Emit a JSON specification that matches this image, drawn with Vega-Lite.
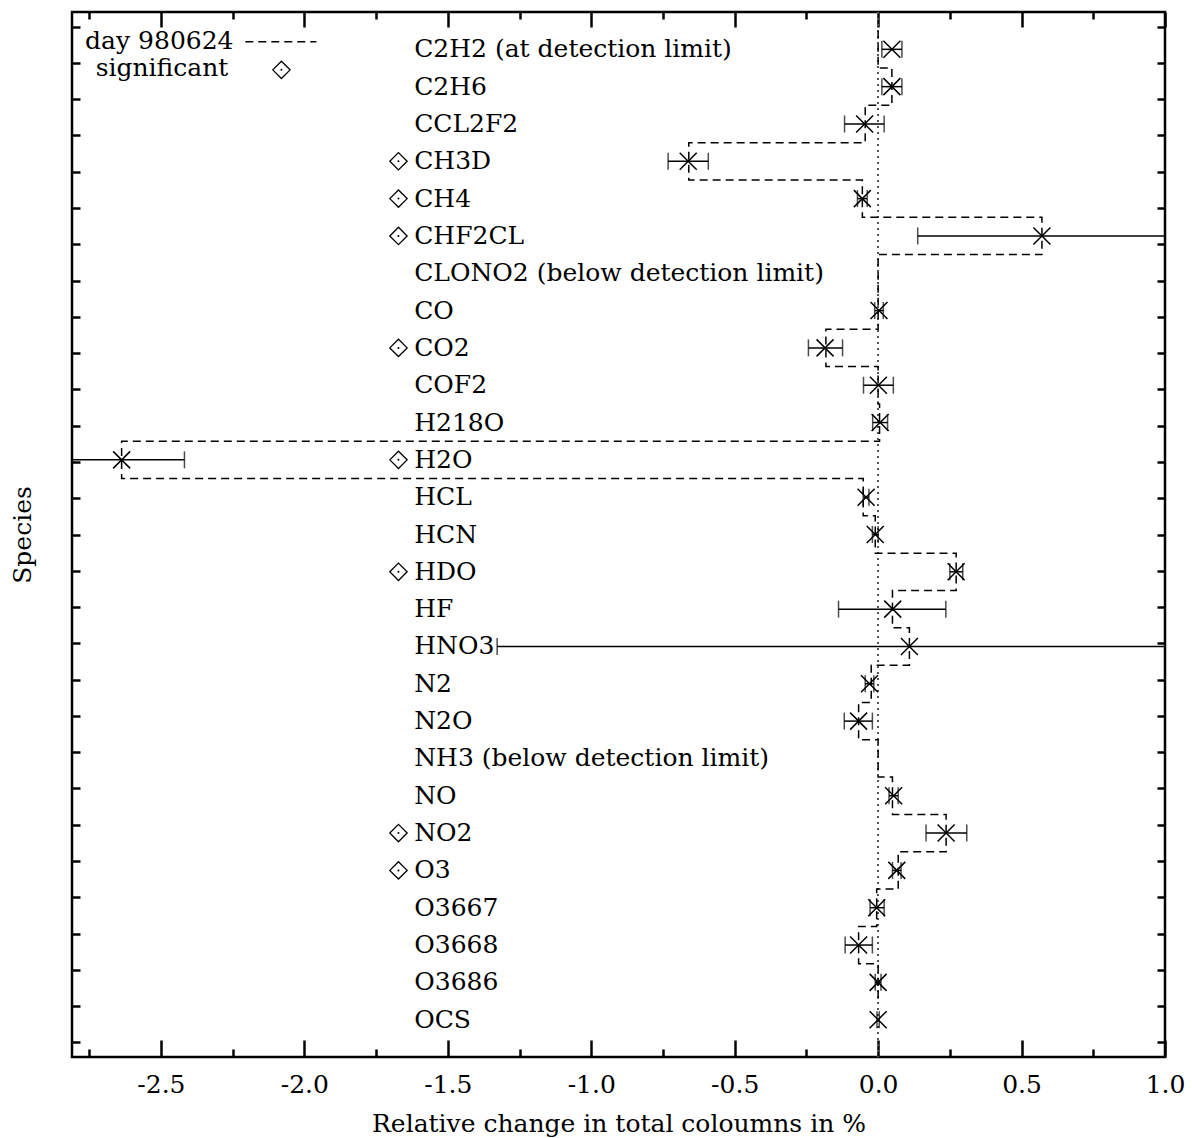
{
  "$schema": "https://vega.github.io/schema/vega-lite/v6.json",
  "width": 1093,
  "height": 1045,
  "autosize": "none",
  "padding": {"left": 72, "top": 12, "right": 27, "bottom": 81},
  "background": "white",
  "config": {
    "view": {"stroke": "black", "strokeWidth": 2.5},
    "text": {"font": "DejaVu Serif", "fontSize": 25, "color": "black"},
    "axis": {"labelFont": "DejaVu Serif", "titleFont": "DejaVu Serif", "titleFontWeight": "normal", "labelColor": "black", "titleColor": "black", "tickColor": "black", "domain": false, "grid": false}
  },
  "data": {"values": [
    {"idx": 1, "species": "C2H2", "label": "C2H2 (at detection limit)", "sig": false, "day": 0, "val": 0.048, "lo": 0.013, "hi": 0.083},
    {"idx": 2, "species": "C2H6", "label": "C2H6", "sig": false, "day": 0.048, "val": 0.048, "lo": 0.013, "hi": 0.083},
    {"idx": 3, "species": "CCL2F2", "label": "CCL2F2", "sig": false, "day": -0.045, "val": -0.047, "lo": -0.117, "hi": 0.021},
    {"idx": 4, "species": "CH3D", "label": "CH3D", "sig": true, "day": -0.66, "val": -0.662, "lo": -0.732, "hi": -0.592},
    {"idx": 5, "species": "CH4", "label": "CH4", "sig": true, "day": -0.055, "val": -0.055, "lo": -0.072, "hi": -0.038},
    {"idx": 6, "species": "CHF2CL", "label": "\u00a0CHF2CL", "sig": true, "day": 0.571, "val": 0.571, "lo": 0.138, "hi": 1.004},
    {"idx": 7, "species": "CLONO2", "label": "CLONO2 (below detection limit)", "sig": false, "day": 0, "val": null, "lo": null, "hi": null},
    {"idx": 8, "species": "CO", "label": "CO", "sig": false, "day": 0, "val": 0.003, "lo": -0.012, "hi": 0.018},
    {"idx": 9, "species": "CO2", "label": "CO2", "sig": true, "day": -0.182, "val": -0.185, "lo": -0.243, "hi": -0.124},
    {"idx": 10, "species": "COF2", "label": "COF2", "sig": false, "day": 0, "val": 0.001, "lo": -0.051, "hi": 0.053},
    {"idx": 11, "species": "H218O", "label": "H218O", "sig": false, "day": 0.005, "val": 0.007, "lo": -0.019, "hi": 0.033},
    {"idx": 12, "species": "H2O", "label": "H2O", "sig": true, "day": -2.637, "val": -2.637, "lo": -2.857, "hi": -2.418},
    {"idx": 13, "species": "HCL", "label": "HCL", "sig": false, "day": -0.052, "val": -0.042, "lo": -0.052, "hi": -0.032},
    {"idx": 14, "species": "HCN", "label": "HCN", "sig": false, "day": -0.01, "val": -0.01, "lo": -0.02, "hi": 0.0},
    {"idx": 15, "species": "HDO", "label": "HDO", "sig": true, "day": 0.272, "val": 0.272, "lo": 0.25, "hi": 0.295},
    {"idx": 16, "species": "HF", "label": "HF", "sig": false, "day": 0.05, "val": 0.051, "lo": -0.138, "hi": 0.236},
    {"idx": 17, "species": "HNO3", "label": "HNO3", "sig": false, "day": 0.109, "val": 0.109, "lo": -1.328, "hi": 1.546},
    {"idx": 18, "species": "N2", "label": "N2", "sig": false, "day": -0.024, "val": -0.03, "lo": -0.045, "hi": -0.015},
    {"idx": 19, "species": "N2O", "label": "N2O", "sig": false, "day": -0.068, "val": -0.068, "lo": -0.118, "hi": -0.02},
    {"idx": 20, "species": "NH3", "label": "NH3 (below detection limit)", "sig": false, "day": 0, "val": null, "lo": null, "hi": null},
    {"idx": 21, "species": "NO", "label": "NO", "sig": false, "day": 0.05, "val": 0.054, "lo": 0.038, "hi": 0.07},
    {"idx": 22, "species": "NO2", "label": "NO2", "sig": true, "day": 0.237, "val": 0.237, "lo": 0.167, "hi": 0.309},
    {"idx": 23, "species": "O3", "label": "O3", "sig": true, "day": 0.07, "val": 0.065, "lo": 0.05, "hi": 0.08},
    {"idx": 24, "species": "O3667", "label": "O3667", "sig": false, "day": -0.005, "val": -0.005, "lo": -0.028, "hi": 0.021},
    {"idx": 25, "species": "O3668", "label": "O3668", "sig": false, "day": -0.068, "val": -0.068, "lo": -0.115, "hi": -0.02},
    {"idx": 26, "species": "O3686", "label": "O3686", "sig": false, "day": 0, "val": 0, "lo": -0.01, "hi": 0.01},
    {"idx": 27, "species": "OCS", "label": "OCS", "sig": false, "day": 0, "val": 0, "lo": -0.004, "hi": 0.004}
  ]},
  "resolve": {"scale": {"y": "independent"}, "axis": {"x": "independent", "y": "independent"}},
  "layer": [
    {
      "resolve": {"axis": {"x": "independent", "y": "independent"}},
      "layer": [
        {
          "mark": {"type": "rule", "strokeDash": [2, 4], "color": "#555", "strokeWidth": 1.3},
          "encoding": {"x": {"datum": 0, "type": "quantitative", "axis": null}}
        },
        {
          "mark": {"type": "line", "interpolate": "step-before", "strokeDash": [8, 5], "color": "black", "strokeWidth": 1.5},
          "encoding": {
            "x": {"field": "day", "type": "quantitative", "axis": {"orient": "top", "values": [-2.75, -2.5, -2.25, -2, -1.75, -1.5, -1.25, -1, -0.75, -0.5, -0.25, 0, 0.25, 0.5, 0.75, 1], "labels": false, "title": null, "tickWidth": 2.5, "tickSize": {"condition": {"test": "abs(datum.value*2-round(datum.value*2))<0.001", "value": -15}, "value": -7}}},
            "y": {"field": "species", "type": "nominal", "sort": null, "bandPosition": 0, "axis": null},
            "order": {"field": "idx", "type": "quantitative"}
          }
        },
        {
          "transform": [{"filter": "datum.val != null"}],
          "mark": {"type": "rule", "color": "black", "strokeWidth": 1.5, "clip": true},
          "encoding": {
            "x": {"field": "lo", "type": "quantitative", "scale": {"domain": [-2.81, 1.0], "nice": false, "zero": false},
              "axis": {"orient": "bottom", "values": [-2.75, -2.5, -2.25, -2, -1.75, -1.5, -1.25, -1, -0.75, -0.5, -0.25, 0, 0.25, 0.5, 0.75, 1],
                "labelExpr": "abs(datum.value*2-round(datum.value*2))<0.001 ? replace(format(datum.value,'.1f'),'\u2212','-') : ''",
                "tickWidth": 2.5, "tickSize": {"condition": {"test": "abs(datum.value*2-round(datum.value*2))<0.001", "value": -17}, "value": -8},
                "labelFontSize": 25, "labelPadding": 32, "labelFlush": false, "labelOverlap": false,
                "title": "Relative change in total coloumns in %", "titleFontSize": 25, "titlePadding": 5}},
            "x2": {"field": "hi"},
            "y": {"field": "species", "type": "nominal", "sort": null, "scale": {"type": "band", "paddingInner": 0, "paddingOuter": 0.5}, "axis": null}
          }
        },
        {
          "transform": [{"filter": "datum.val != null"}],
          "mark": {"type": "tick", "orient": "vertical", "size": 17, "thickness": 1.5, "color": "black", "clip": true},
          "encoding": {
            "x": {"field": "lo", "type": "quantitative", "axis": null},
            "y": {"field": "species", "type": "nominal", "sort": null, "axis": null}
          }
        },
        {
          "transform": [{"filter": "datum.val != null"}],
          "mark": {"type": "tick", "orient": "vertical", "size": 17, "thickness": 1.5, "color": "black", "clip": true},
          "encoding": {
            "x": {"field": "hi", "type": "quantitative", "axis": null},
            "y": {"field": "species", "type": "nominal", "sort": null, "axis": null}
          }
        },
        {
          "transform": [{"filter": "datum.val != null"}],
          "mark": {"type": "point", "shape": "M-1,-1L1,1M-1,1L1,-1", "filled": false, "stroke": "black", "strokeWidth": 1.5, "size": 289, "opacity": 1},
          "encoding": {
            "x": {"field": "val", "type": "quantitative", "axis": null},
            "y": {"field": "species", "type": "nominal", "sort": null, "axis": null}
          }
        },
        {
          "transform": [{"filter": "datum.sig"}],
          "mark": {"type": "point", "shape": "diamond", "filled": false, "stroke": "black", "strokeWidth": 1.3, "size": 300, "opacity": 1},
          "encoding": {
            "x": {"datum": -1.672, "type": "quantitative", "axis": null},
            "y": {"field": "species", "type": "nominal", "sort": null, "axis": null}
          }
        },
        {
          "transform": [{"filter": "datum.sig"}],
          "mark": {"type": "point", "shape": "circle", "filled": true, "color": "black", "size": 4, "opacity": 1},
          "encoding": {
            "x": {"datum": -1.672, "type": "quantitative", "axis": null},
            "y": {"field": "species", "type": "nominal", "sort": null, "axis": null}
          }
        },
        {
          "mark": {"type": "text", "align": "left", "baseline": "middle"},
          "encoding": {
            "x": {"datum": -1.617, "type": "quantitative", "axis": null},
            "y": {"field": "species", "type": "nominal", "sort": null, "axis": null},
            "text": {"field": "label"}
          }
        },
        {
          "data": {"values": [{"t": "day 980624"}]},
          "mark": {"type": "text", "align": "right", "baseline": "middle"},
          "encoding": {
            "x": {"datum": -2.247, "type": "quantitative", "axis": null},
            "y": {"datum": "C2H2", "type": "nominal", "bandPosition": 0.28, "axis": null},
            "text": {"field": "t"}
          }
        },
        {
          "data": {"values": [{"t": "significant"}]},
          "mark": {"type": "text", "align": "right", "baseline": "middle"},
          "encoding": {
            "x": {"datum": -2.265, "type": "quantitative", "axis": null},
            "y": {"datum": "C2H2", "type": "nominal", "bandPosition": 1.0, "axis": null},
            "text": {"field": "t"}
          }
        },
        {
          "data": {"values": [{"t": "dash"}]},
          "mark": {"type": "rule", "strokeDash": [8, 5], "color": "black", "strokeWidth": 1.5},
          "encoding": {
            "x": {"datum": -2.206, "type": "quantitative", "axis": null},
            "x2": {"datum": -1.958},
            "y": {"datum": "C2H2", "type": "nominal", "bandPosition": 0.3, "axis": null}
          }
        },
        {
          "data": {"values": [{"t": "diamond"}]},
          "mark": {"type": "point", "shape": "diamond", "filled": false, "stroke": "black", "strokeWidth": 1.3, "size": 300, "opacity": 1},
          "encoding": {
            "x": {"datum": -2.08, "type": "quantitative", "axis": null},
            "y": {"datum": "C2H2", "type": "nominal", "bandPosition": 1.05, "axis": null}
          }
        },
        {
          "data": {"values": [{"t": "dot"}]},
          "mark": {"type": "point", "shape": "circle", "filled": true, "color": "black", "size": 4, "opacity": 1},
          "encoding": {
            "x": {"datum": -2.08, "type": "quantitative", "axis": null},
            "y": {"datum": "C2H2", "type": "nominal", "bandPosition": 1.05, "axis": null}
          }
        }
      ]
    },
    {
      "data": {"values": [{"t": "left axis"}]},
      "mark": {"type": "rule", "opacity": 0},
      "encoding": {
        "y": {"datum": 0, "type": "quantitative", "scale": {"domain": [-0.4, 28.4], "nice": false, "zero": false, "reverse": true},
          "axis": {"orient": "left", "values": [0, 1, 2, 3, 4, 5, 6, 7, 8, 9, 10, 11, 12, 13, 14, 15, 16, 17, 18, 19, 20, 21, 22, 23, 24, 25, 26, 27, 28], "labels": false, "tickWidth": 2.5, "tickSize": -8, "title": "Species", "titleFontSize": 25, "titlePadding": 35}}
      }
    },
    {
      "data": {"values": [{"t": "right axis"}]},
      "mark": {"type": "rule", "opacity": 0},
      "encoding": {
        "y": {"datum": 0, "type": "quantitative", "scale": {"domain": [-0.4, 28.4], "nice": false, "zero": false, "reverse": true},
          "axis": {"orient": "right", "values": [0, 1, 2, 3, 4, 5, 6, 7, 8, 9, 10, 11, 12, 13, 14, 15, 16, 17, 18, 19, 20, 21, 22, 23, 24, 25, 26, 27, 28], "labels": false, "tickWidth": 2.5, "tickSize": -8, "title": null}}
      }
    }
  ]
}
